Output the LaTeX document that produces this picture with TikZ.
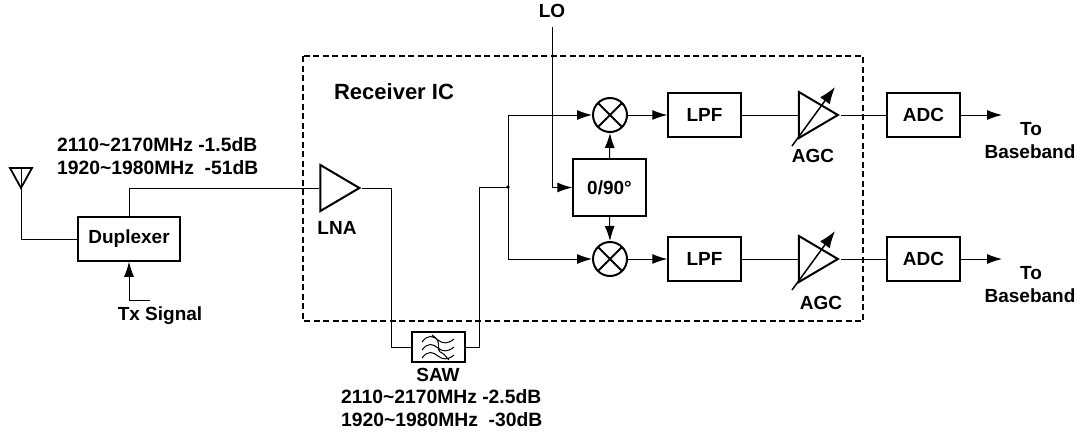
\documentclass[tikz,border=0pt]{standalone}
\usepackage{fontspec}
\setmainfont{Liberation Sans}
\usetikzlibrary{arrows.meta,shapes.geometric}
\newcommand{\lblfont}{\bfseries\fontsize{19}{22}\selectfont}
\tikzset{
  block/.style={draw,line width=1.5pt,inner sep=0pt,font=\lblfont},
  amp/.style={draw,line width=2pt,isosceles triangle,isosceles triangle stretches,shape border rotate=0,
    minimum width=46pt,minimum height=39pt,inner sep=0pt,anchor=apex},
  mixer/.style={draw,circle,line width=2pt,minimum size=34pt,inner sep=0pt,
    path picture={\draw[line width=2pt] (path picture bounding box.north west)--(path picture bounding box.south east)
      (path picture bounding box.north east)--(path picture bounding box.south west);}},
  label/.style={font=\lblfont,inner sep=0pt},
  freq/.style={font=\bfseries\fontsize{19.3}{22}\selectfont,inner sep=0pt,anchor=west},
  wire/.style={line width=1pt},
  sig/.style={line width=1pt,-{Latex[length=15pt,width=10pt]}}
}
\begin{document}
\begin{tikzpicture}[x=1pt,y=-1pt]
\useasboundingbox (0,0) rectangle (1081,440);
% receiver boundary
\draw[line width=1.5pt,dash pattern=on 6pt off 3.5pt] (303,56) rectangle (863,321);
\node[label,font=\bfseries\fontsize{22}{26}\selectfont] at (394,92) {Receiver IC};
% antenna and duplexer
\coordinate (ant) at (21,168);
\draw[line width=1.8pt] (10,168)--(32,168)--(21,188)--cycle;
\node[block,minimum width=102pt,minimum height=44pt] (dup) at (129,239) {Duplexer};
\draw[wire] (ant)|-(dup.west);
\node[label] (tx) at (160,316) {Tx Signal};
\coordinate (txin) at (150,300);
\draw[sig] (txin)-|(dup.south);
\node[freq] at (57,145) {2110\textasciitilde2170MHz -1.5dB};
\node[freq] at (57,168) {1920\textasciitilde1980MHz\ \ -51dB};
% LNA
\node[amp] (lna) at (362,188) {};
\node[label] at (337,228) {LNA};
\draw[wire] (dup.north)|-(lna.lower side);
% SAW
\node[block,line width=2pt,minimum width=53pt,minimum height=30pt] (saw) at (438.5,347) {};
\draw[line width=1pt] (422,342) .. controls (428,334) and (433,336) .. (438,340) .. controls (443,344) and (448,344) .. (454,339)
  (422,350) .. controls (428,342) and (433,344) .. (438,348) .. controls (443,352) and (448,352) .. (454,347)
  (422,358) .. controls (428,350) and (433,352) .. (438,356) .. controls (443,360) and (448,360) .. (454,355)
  (432,335) .. controls (444,342) and (434,350) .. (442,353) .. controls (446,355) and (446,358) .. (449,360);
\node[label] at (438,375) {SAW};
\node[freq] at (341,397) {2110\textasciitilde2170MHz -2.5dB};
\node[freq] at (341,420) {1920\textasciitilde1980MHz\ \ -30dB};
\coordinate (split) at (508,187);
\draw[wire] (lna.apex)-|(391,347)--(saw.west);
\draw[wire] (saw.east)-|(479,187)--(split);
\fill (split) circle (1.8pt);
% LO and phase splitter
\node[label] (lo) at (552,11) {LO};
\coordinate (loin) at (552,27);
\node[block,minimum width=73pt,minimum height=57pt] (ph) at (609.5,187.5) {0/90\textdegree};
\draw[sig] (loin)|-(ph.west);
% mixers
\node[mixer] (mixi) at (610,115) {};
\node[mixer] (mixq) at (610,259) {};
\draw[sig] (split)|-(mixi.west);
\draw[sig] (split)|-(mixq.west);
\draw[sig] (ph.north)--(mixi.south);
\draw[sig] (ph.south)--(mixq.north);
% I and Q branches
\foreach \nm/\yy in {i/115,q/259}{
  \node[block,minimum width=73pt,minimum height=44pt] (lpf\nm) at (704.5,\yy) {LPF};
  \node[amp] (agc\nm) at (840.5,\yy) {};
  \node[block,minimum width=73pt,minimum height=44pt] (adc\nm) at (923.5,\yy) {ADC};
  \coordinate (out\nm) at (1002,\yy);
  \draw[sig] (mix\nm.east)--(lpf\nm.west);
  \draw[wire] (lpf\nm.east)--(agc\nm.lower side);
  \draw[wire] (agc\nm.apex)--(adc\nm.west);
  \draw[sig] (adc\nm.east)--(out\nm);
  \draw[line width=1.5pt,-{Latex[length=17pt,width=12pt]}] (792,\yy+31)--(835,\yy-28);
}
\node[label] at (813,156) {AGC};
\node[label] at (821,303) {AGC};
\node[label] at (1031,129) {To};
\node[label] at (1030,152) {Baseband};
\node[label] at (1031,273) {To};
\node[label] at (1030,296) {Baseband};
\end{tikzpicture}
\end{document}
